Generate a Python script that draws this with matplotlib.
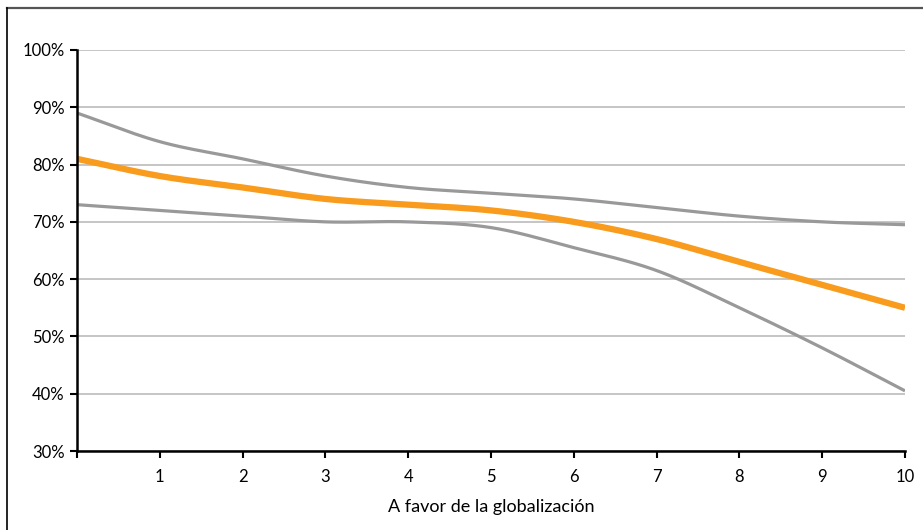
import numpy as np
import matplotlib
matplotlib.use("Agg")
import matplotlib.pyplot as plt
from matplotlib.lines import Line2D

x_vals = [0, 1, 2, 3, 4, 5, 6, 7, 8, 9, 10]
upper = [89, 84, 81, 78, 76, 75, 74, 72.5, 71, 70, 69.5]
middle = [81, 78, 76, 74, 73, 72, 70, 67, 63, 59, 55]
lower = [73, 72, 71, 70, 70, 69, 65.5, 61.5, 55, 48, 40.5]
x_tick_labels = ["", "1", "2", "3", "4", "5", "6", "7", "8", "9", "10"]
y_ticks = [30, 40, 50, 60, 70, 80, 90, 100]
x_label = "A favor de la globalización"


def smooth(xs, ys, n=20):
    # Catmull-Rom rendering (like Excel smoothed lines)
    xs = np.asarray(xs, float); ys = np.asarray(ys, float)
    px = np.concatenate([[2*xs[0]-xs[1]], xs, [2*xs[-1]-xs[-2]]])
    py = np.concatenate([[2*ys[0]-ys[1]], ys, [2*ys[-1]-ys[-2]]])
    ox, oy = [], []
    t = np.linspace(0, 1, n, endpoint=False)
    for i in range(1, len(px)-2):
        for P, out in ((px, ox), (py, oy)):
            p0, p1, p2, p3 = P[i-1], P[i], P[i+1], P[i+2]
            out.extend(0.5*((2*p1) + (-p0+p2)*t + (2*p0-5*p1+4*p2-p3)*t**2 + (-p0+3*p1-3*p2+p3)*t**3))
    ox.append(xs[-1]); oy.append(ys[-1])
    return np.array(ox), np.array(oy)


plt.rcParams['font.family'] = ['Lato', 'DejaVu Sans']
fig = plt.figure(figsize=(9.23, 5.30), dpi=100)
W, H = 923, 530
ax = fig.add_axes([77/W, 1-451/H, (905-77)/W, (451-50)/H])

for yv in y_ticks:
    ax.axhline(yv, color='#c0c0c0', lw=1.3, zorder=1)

gx, gy = smooth(x_vals, upper)
ax.plot(gx, gy, color='#999999', lw=2.3, zorder=3, solid_capstyle='butt')
gx, gy = smooth(x_vals, lower)
ax.plot(gx, gy, color='#999999', lw=2.3, zorder=3, solid_capstyle='butt')
gx, gy = smooth(x_vals, middle)
ax.plot(gx, gy, color='#F99B1C', lw=4.5, zorder=4, solid_capstyle='butt')

ax.set_xlim(0, 10)
ax.set_ylim(30, 100)
ax.set_xticks(x_vals)
ax.set_xticklabels(x_tick_labels)
ax.set_yticks(y_ticks)
ax.set_yticklabels([f"{v}%" for v in y_ticks])
for s in ['top', 'right']:
    ax.spines[s].set_visible(False)
for s in ['left', 'bottom']:
    ax.spines[s].set_linewidth(1.8)
    ax.spines[s].set_color('black')
    ax.spines[s].set_zorder(5)
ax.tick_params(axis='x', direction='out', length=5, width=1.5, pad=8, labelsize=12, colors='black')
ax.tick_params(axis='y', direction='out', length=5, width=1.5, pad=4, labelsize=12, colors='black')
ax.set_xlabel(x_label, fontsize=13, labelpad=10)

# outer chart border (top and left visible)
fig.add_artist(Line2D([7/W, 1], [1-7.5/H, 1-7.5/H], color='#555555', lw=1.6))
fig.add_artist(Line2D([7.5/W, 7.5/W], [0, 1-7.5/H], color='black', lw=1.2))

fig.savefig("out.png", dpi=100)
